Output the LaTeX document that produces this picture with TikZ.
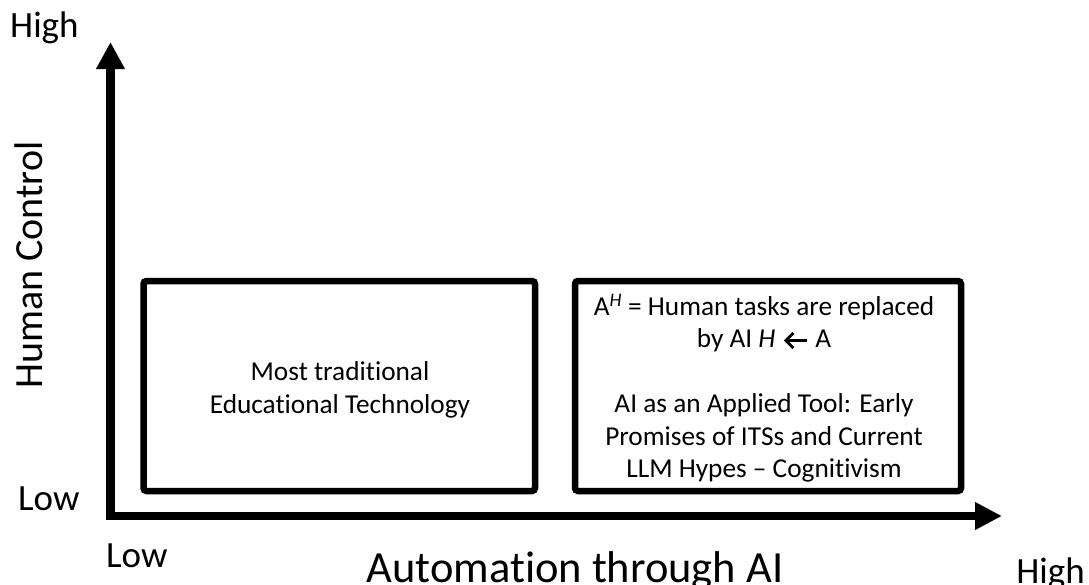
\documentclass[tikz,border=0pt]{standalone}
\usepackage{fontspec}
\setmainfont{Carlito}[Ligatures={NoCommon,NoContextual,NoRare}]
\usetikzlibrary{arrows.meta}
\newcommand\bigleftarrow{\tikz[baseline=0pt,x=1pt,y=1pt]{\draw[line width=2.8pt,line join=miter,line cap=butt] (8.5,14.5) -- (1,7) -- (8.5,-0.5) (1,7) -- (22,7);}}
\tikzset{
  axisline/.style={line width=8.5pt, line join=miter,
    {Triangle[length=27pt,width=27pt]}-{Triangle[length=27pt,width=26pt]}},
  quadbox/.style={draw, line width=6.5pt, rounded corners=3pt, inner sep=0pt, outer sep=0pt},
  axislabel/.style={font=\fontsize{37}{44}\selectfont, inner sep=0pt},
  boxtext/.style={font=\fontsize{27.3}{32.5}\selectfont, align=center, inner sep=0pt}
}
\begin{document}
\begin{tikzpicture}[x=1pt,y=-1pt]
\useasboundingbox (0,0) rectangle (1089,584);
% axes
\coordinate (ytop) at (110.5,42);
\coordinate (origin) at (110.5,516);
\coordinate (xend) at (1002,516);
\draw[axisline] (ytop) -- (origin) -- (xend);
% boxes
\node[quadbox, minimum width=391.5pt, minimum height=210pt] (b1) at (339.25,386) {};
\node[quadbox, minimum width=386pt, minimum height=210pt] (b2) at (768,386) {};
% box texts
\node[boxtext] (t1) at (340,390) {Most traditional\\Educational Technology};
\node[boxtext] (t2) at (764,388) {A\textsuperscript{\textit{H}} = Human tasks are replaced\\by AI \textit{H}\hspace{9pt}\bigleftarrow\hspace{7pt}A\\[32.5pt]AI as an Applied Tool: Early\\Promises of ITSs and Current\\LLM Hypes – Cognitivism};
% axis labels
\node[axislabel, anchor=base west] (yhigh) at (10,37) {High};
\node[axislabel, anchor=base west] (ylow) at (18,510) {Low};
\node[axislabel, font=\fontsize{40}{46}\selectfont, anchor=base, rotate=90] (ytitle) at (42,265) {Human Control};
\node[axislabel, anchor=base west] (xlow) at (106,567) {Low};
\node[axislabel, anchor=base east] (xhigh) at (1085,583) {High};
\node[axislabel, font=\fontsize{44.5}{50}\selectfont, anchor=base] (xtitle) at (575,582) {Automation through AI};
\end{tikzpicture}
\end{document}
